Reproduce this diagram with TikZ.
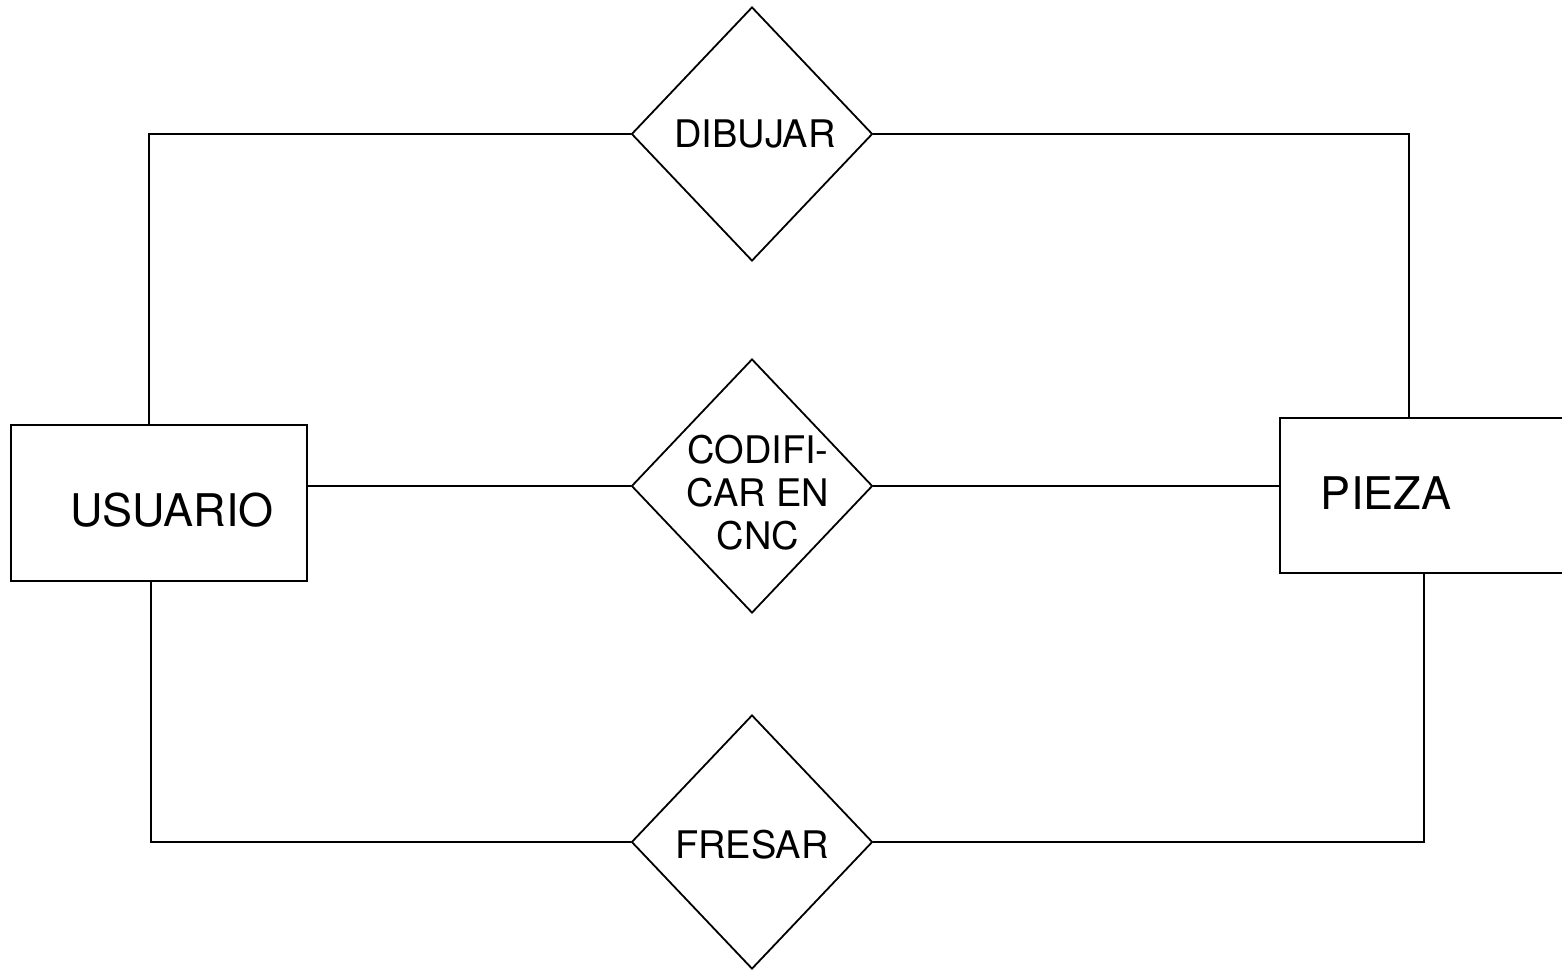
\documentclass[tikz,border=0pt]{standalone}
\usepackage{fontspec}
\setmainfont{TeX Gyre Heros}
\usetikzlibrary{shapes.geometric}
\begin{document}
\begin{tikzpicture}[x=0.5pt,y=-0.5pt,
  conn/.style={line width=0.9pt},
  entbox/.style={draw, line width=0.9pt, rectangle, inner sep=0pt},
  relbox/.style={draw, line width=0.9pt, diamond, inner sep=0pt, minimum width=120.5pt, minimum height=127pt},
  txt/.style={inner sep=0pt, font=\fontsize{19}{21.5}\selectfont, align=center},
  bigtxt/.style={inner sep=0pt, font=\fontsize{22.5}{27}\selectfont}]
\useasboundingbox (0,0) rectangle (1562,969);
\clip (0,0) rectangle (1562,969);
\fill[white] (0,0) rectangle (1562,969);

% entities
\node[entbox, minimum width=148pt, minimum height=78pt] (usuario) at (159,503) {};
\node[entbox, minimum width=160pt, minimum height=77.5pt] (pieza) at (1440,495.5) {};
\node[bigtxt] (usuariotxt) at (172,510) {USUARIO};
\node[bigtxt] (piezatxt) at (1386,493) {PIEZA};

% relationships
\node[relbox] (dibujar) at (752,134) {};
\node[relbox] (codificar) at (752,486) {};
\node[relbox] (fresar) at (752,842) {};
\node[txt] (dibujartxt) at (755,133.5) {DIBUJAR};
\node[txt] (codificartxt) at (758,493) {CODIFI-\\CAR EN\\CNC};
\node[txt] (fresartxt) at (752,845) {FRESAR};

% helper coordinates for the vertical runs
\coordinate (tl) at (149,0);
\coordinate (tr) at (1409,0);
\coordinate (bl) at (151,0);
\coordinate (br) at (1424,0);

% connectors
\draw[conn] (usuario.north -| tl) |- (dibujar.west);
\draw[conn] (dibujar.east) -| (pieza.north -| tr);
\draw[conn] (usuario.east |- codificar.west) -- (codificar.west);
\draw[conn] (codificar.east) -- (codificar.east -| pieza.west);
\draw[conn] (usuario.south -| bl) |- (fresar.west);
\draw[conn] (fresar.east) -| (pieza.south -| br);
\end{tikzpicture}
\end{document}
